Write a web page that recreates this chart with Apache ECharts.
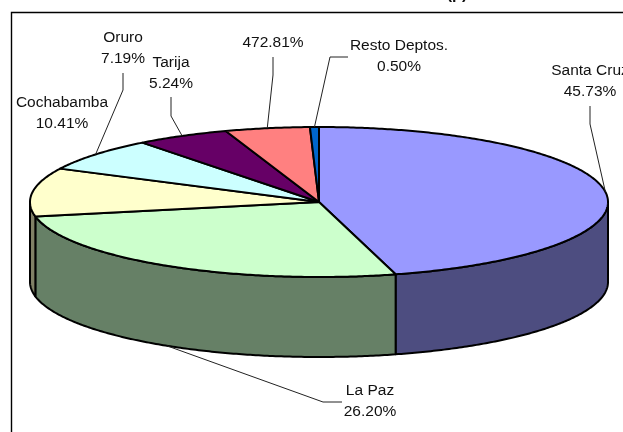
<!DOCTYPE html>
<html><head><meta charset="utf-8">
<style>html,body{margin:0;padding:0;background:#fff;overflow:hidden}#c{width:623px;height:432px}</style>
<script src="https://cdn.jsdelivr.net/npm/echarts@6/dist/echarts.min.js"></script>
</head><body><div id="c"></div>
<script>
const categories = ['Santa Cruz','La Paz','Cochabamba','Oruro','Tarija','Otros','Resto Deptos.'];
const values = [45.73,26.20,10.41,7.19,5.24,4.73,0.50];
const valueLabels = ['45.73%','26.20%','10.41%','7.19%','5.24%','472.81%','0.50%'];
const titleText = '(p)';
const topColors = ['#9999FF','#CCFFCC','#FFFFCC','#CCFFFF','#660066','#FF8080','#0066CC'];
const sideColors = ['#4D4D80','#668066','#808066','#668080','#330033','#804040','#003366'];

const PIE = {cx:319, cy:202, rx:289, ry:75, depth:80};
// label centre, and leader bend points (from label outwards); the last point is computed from the data
const LABELS = [
  {x:590,y:81, name:true, lead:[[590,106],[590,124]]},
  {x:370,y:401,name:true, lead:[[342,402],[323,402]], front:true},
  {x:62, y:113,name:true, lead:null},
  {x:123,y:48, name:true, lead:[[123,73],[123,90]]},
  {x:171,y:73, name:true, lead:[[171,97],[171,116]]},
  {x:273,y:43, name:false,lead:[[273,57],[273,75]]},
  {x:399,y:56, name:true, lead:[[348,57],[330,57]]}
];

const total = values.reduce((a,b)=>a+b,0);
const cum = []; values.reduce((s,v,i)=>{cum[i]=s;return s+v;},0);
const ang = v => v/total*2*Math.PI;           // clockwise from 12 o'clock
const pt = (a,dy=0) => [PIE.cx+PIE.rx*Math.sin(a), PIE.cy-PIE.ry*Math.cos(a)+dy];
function arc(a0,a1,dy=0){
  const n=Math.max(2,Math.ceil((a1-a0)/0.01)), p=[];
  for(let i=0;i<=n;i++) p.push(pt(a0+(a1-a0)*i/n,dy));
  return p;
}
const data = values.map((v,i)=>[i,cum[i],v]);

function renderWall(params,api){
  const i=api.value(0), a0=ang(api.value(1)), a1=a0+ang(api.value(2));
  const s=Math.max(a0,Math.PI/2), e=Math.min(a1,3*Math.PI/2);
  if(e<=s) return {type:'group',children:[]};
  const pts=arc(s,e).concat(arc(s,e,PIE.depth).reverse());
  return {type:'polygon',shape:{points:pts},style:{fill:sideColors[i],stroke:'#000',lineWidth:2,lineJoin:'round'}};
}
function renderTop(params,api){
  const i=api.value(0), a0=ang(api.value(1)), a1=a0+ang(api.value(2));
  const pts=[[PIE.cx,PIE.cy]].concat(arc(a0,a1));
  return {type:'polygon',shape:{points:pts},style:{fill:topColors[i],stroke:'#000',lineWidth:2,lineJoin:'round'}};
}
function renderLabel(params,api){
  const i=api.value(0), mid=ang(api.value(1)+api.value(2)/2), L=LABELS[i], kids=[];
  if(L.lead){
    const end=pt(mid,L.front?PIE.depth:0);
    kids.push({type:'polyline',shape:{points:L.lead.concat([end])},style:{fill:null,stroke:'#222',lineWidth:1}});
  }
  const txt=(L.name?categories[i]+'\n':'')+valueLabels[i];
  kids.push({type:'text',style:{x:L.x,y:L.y,text:txt,align:'center',verticalAlign:'middle',
    font:'15.5px "Liberation Sans", Arial, sans-serif',lineHeight:20.5,fill:'#111'}});
  return {type:'group',children:kids};
}
const chart=echarts.init(document.getElementById('c'),null,{renderer:'canvas'});
const base={type:'custom',coordinateSystem:'none',data,silent:true,animation:false,clip:false};
chart.setOption({
  animation:false,
  backgroundColor:'#fff',
  graphic:[
    {type:'rect',z:-1,shape:{x:11.5,y:12.5,width:700,height:500},style:{fill:'#fff',stroke:'#000',lineWidth:1.4}},
    {type:'text',z:5,style:{x:457,y:3,text:titleText,align:'center',verticalAlign:'bottom',font:'bold 16px "Liberation Sans", Arial, sans-serif',fill:'#111'}}
  ],
  series:[
    Object.assign({},base,{name:'side',renderItem:renderWall,z:2}),
    Object.assign({},base,{name:'top',renderItem:renderTop,z:3}),
    Object.assign({},base,{name:'labels',renderItem:renderLabel,z:4})
  ]
});
</script></body></html>
